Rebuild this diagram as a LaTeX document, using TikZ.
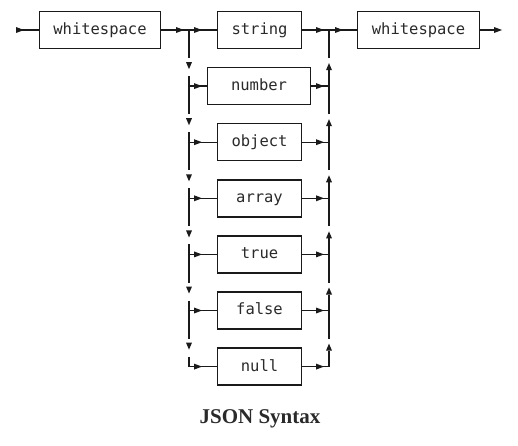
\documentclass[tikz,border=0pt]{standalone}
\usepackage{fontspec}
\setmonofont{DejaVu Sans Mono}
\newfontfamily\titlefont{Liberation Serif}
\usetikzlibrary{calc}
\definecolor{ink}{HTML}{1A1A1A}
\definecolor{txt}{HTML}{2A2A2A}
\newcommand\tipr[1]{\fill[ink] #1 -- ++(-8,-3) -- ++(0,6) -- cycle;}
\newcommand\tipd[1]{\fill[ink] #1 -- ++(-3,-7) -- ++(6,0) -- cycle;}
\newcommand\tipu[1]{\fill[ink] #1 -- ++(-3,7) -- ++(6,0) -- cycle;}
\begin{document}
\begin{tikzpicture}[x=1pt,y=-1pt,
  box/.style={draw=ink, line width=1.5pt, minimum height=37pt, inner sep=0pt,
    text height=8.8pt, text depth=0pt, text=txt,
    font=\fontsize{15.5}{18}\selectfont\ttfamily},
  conn/.style={draw=ink, line width=1.4pt}]
\path[use as bounding box, fill=white] (0,0) rectangle (518,445);
% boxes
\node[box, minimum width=121pt] (ws1) at (100,30) {whitespace};
\node[box, minimum width=84pt] (string) at (259.5,30) {string};
\node[box, minimum width=122pt] (ws2) at (418.5,30) {whitespace};
\node[box, minimum width=103pt] (number) at (259,86.1) {number};
\node[box, minimum width=84pt] (object) at (259.5,142.2) {object};
\node[box, minimum width=84pt] (array) at (259.5,198.3) {array};
\node[box, minimum width=84pt] (true) at (259.5,254.4) {true};
\node[box, minimum width=84pt] (false) at (259.5,310.5) {false};
\node[box, minimum width=84pt] (null) at (259.5,366.6) {null};
% junction coordinates
\foreach \y [count=\k] in {30,86.1,142.2,198.3,254.4,310.5,366.6} {
  \coordinate (L\k) at (189,\y);
  \coordinate (R\k) at (329,\y);
}
\coordinate (start) at (16,30);
\coordinate (end) at (502,30);
% main line
\draw[conn] (start) -- (ws1.west);
\tipr{($(start)+(8,0)$)}
\draw[conn] (ws1.east) -- (string.west);
\tipr{($(L1)+(-5,0)$)}
\tipr{($(L1)+(13,0)$)}
\draw[conn] (string.east) -- (ws2.west);
\tipr{($(R1)+(-5,0)$)}
\tipr{($(R1)+(14,0)$)}
\draw[conn, shorten >=6pt] (ws2.east) -- (end);
\tipr{(end)}
% verticals from the main line
\draw[conn] (L1) -- ($(L2)+(0,-28)$);
\draw[conn] (R1) -- ($(R2)+(0,-28)$);
% alternatives
\foreach \n/\k/\kk in {number/2/3, object/3/4, array/4/5, true/5/6, false/6/7} {
  \tipd{($(L\k)+(0,-17)$)}
  \draw[conn] ($(L\k)+(0,-10)$) -- ($(L\kk)+(0,-28)$);
  \draw[conn] (L\k) -- (\n.west);
  \tipr{($(L\k)+(13,0)$)}
  \tipu{($(R\k)+(0,-23)$)}
  \draw[conn] ($(R\k)+(0,-16)$) -- ($(R\kk)+(0,-28)$);
  \draw[conn] (\n.east) -- (R\k);
  \tipr{($(R\k)+(-5,0)$)}
}
% last alternative (null)
\tipd{($(L7)+(0,-17)$)}
\draw[conn] ($(L7)+(0,-10)$) -- (L7) -- (null.west);
\tipr{($(L7)+(13,0)$)}
\tipu{($(R7)+(0,-23)$)}
\draw[conn] (null.east) -- (R7) -- ($(R7)+(0,-16)$);
\tipr{($(R7)+(-5,0)$)}
% title
\node[font=\titlefont\bfseries\fontsize{21}{24}\selectfont, text=txt, anchor=base] (title) at (260,423) {JSON Syntax};
\end{tikzpicture}
\end{document}
